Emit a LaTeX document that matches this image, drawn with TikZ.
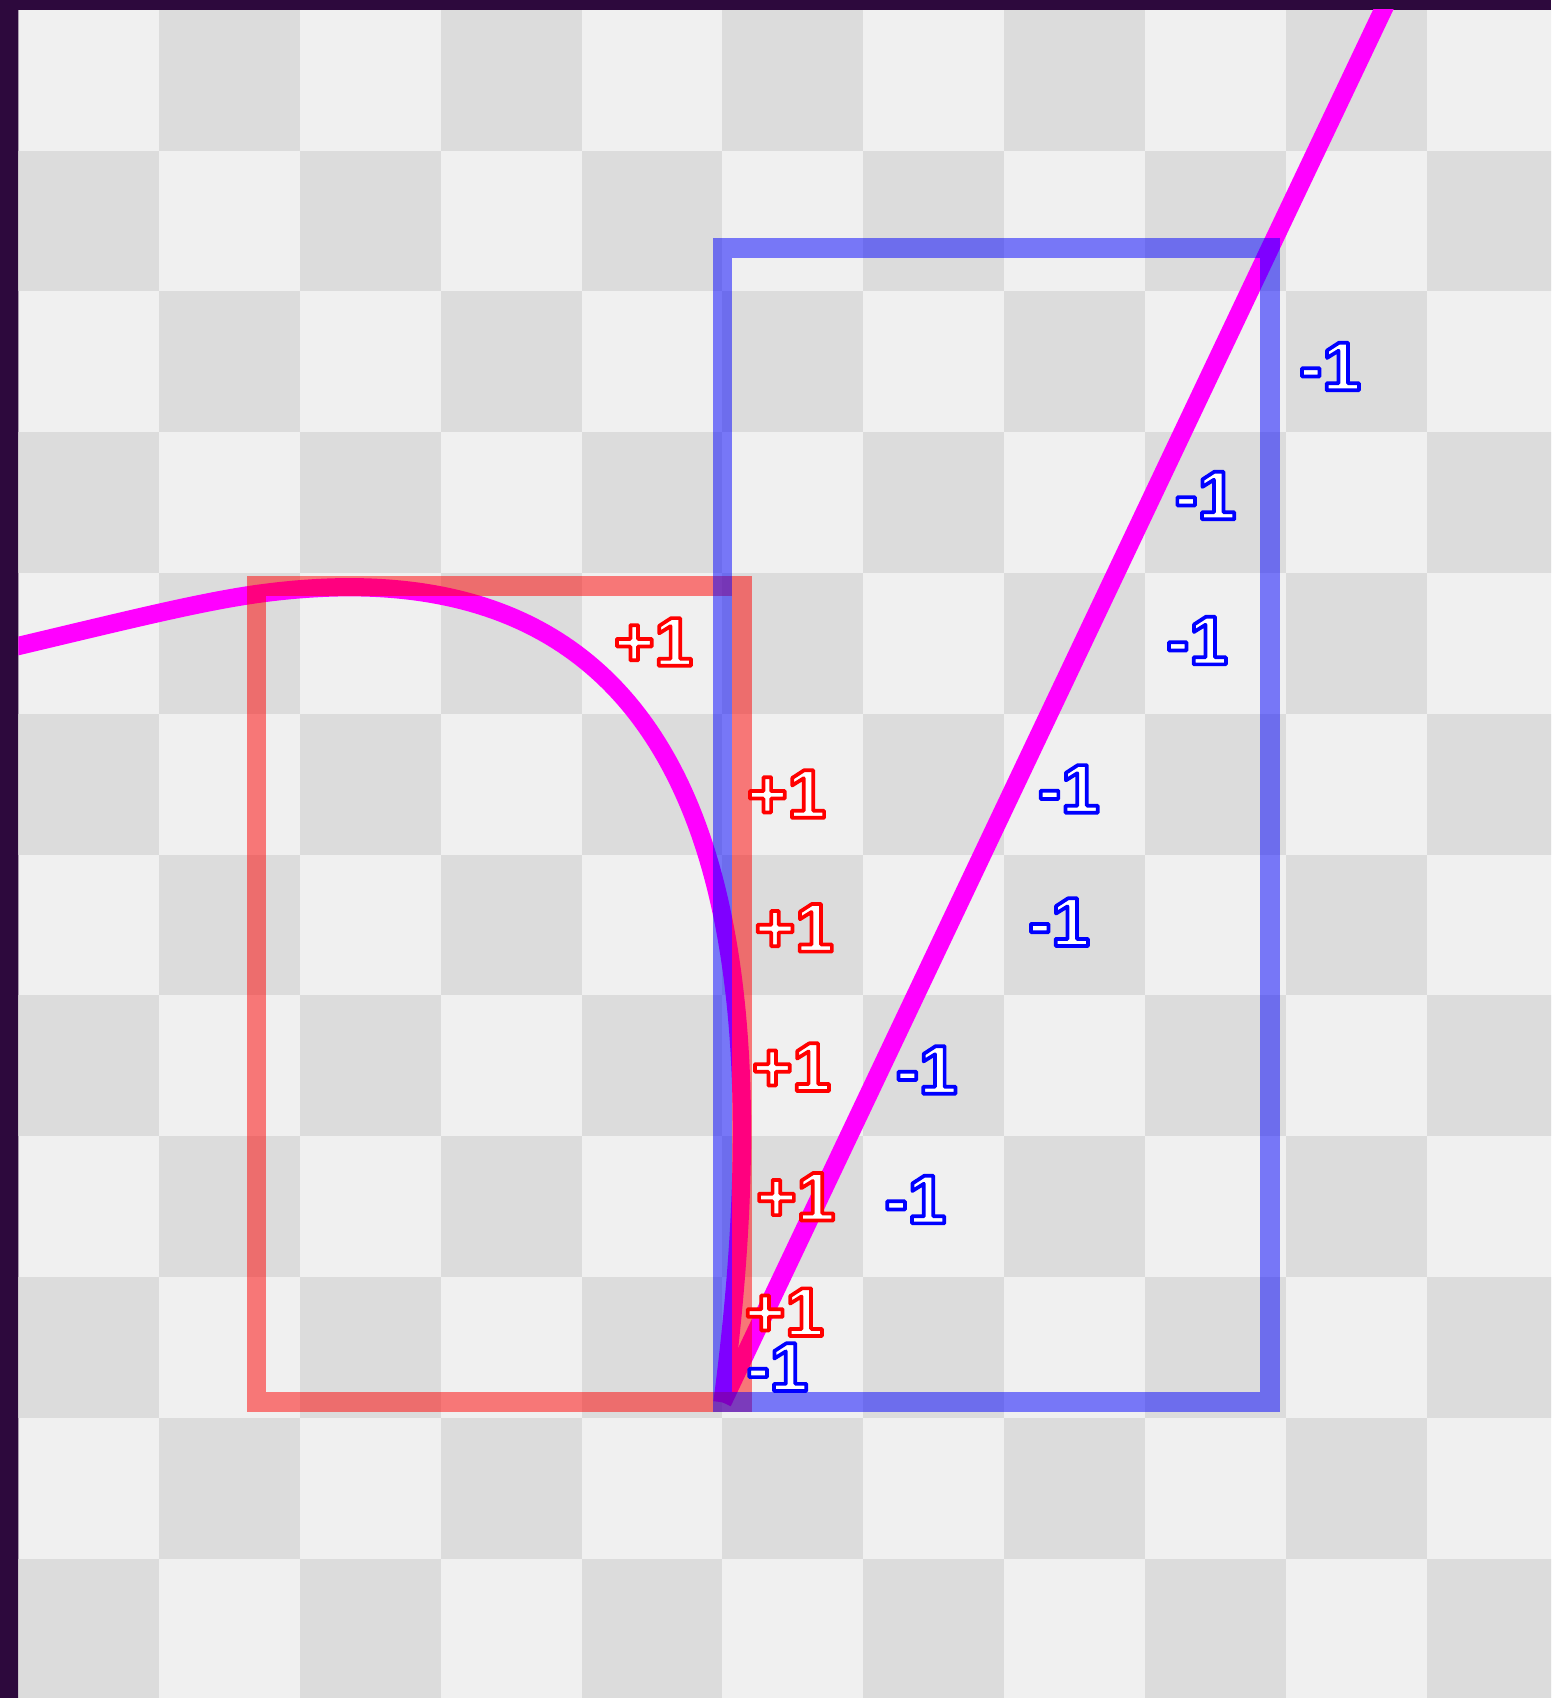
\documentclass[tikz,border=0pt]{standalone}
\usepackage{fontspec}
\setmainfont{Liberation Sans}
\newfontfamily\windfont{Liberation Sans Bold}

\definecolor{frame}{RGB}{45,9,61}
\definecolor{lightcell}{RGB}{240,240,240}
\definecolor{darkcell}{RGB}{220,220,220}
\definecolor{segmagenta}{RGB}{255,0,255}

% white text with a coloured outline (#1 = stroke colour as r g b)
\newcommand\windnum[2]{\special{pdf:literal direct 2 Tr 0.75 w 1 j #1 RG}#2\special{pdf:literal direct 0 Tr}}

\tikzset{
  segline/.style={draw=segmagenta, line width=0.13cm},
  boxside/.style={line width=0.14cm, draw opacity=0.5},
  wnum/.style={font=\windfont\fontsize{14}{14}\selectfont, text=white, inner sep=0pt},
}

\begin{document}
\begin{tikzpicture}[x=1cm, y=-1cm]
        % Frame
        \fill[frame] (-0.131,-0.069) rectangle (10.885,11.99);
        \useasboundingbox (-0.131,-0.069) rectangle (10.885,11.99);

        \begin{scope}
            \clip (0,0) rectangle (10.885,11.99);

            % Checkerboard
            \fill[lightcell] (0,0) rectangle (11,12);
            \foreach \i in {0,...,10} {
                \foreach \j in {0,...,11} {
                    \pgfmathparse{int(mod(\i+\j,2))}
                    \ifnum\pgfmathresult=1
                        \fill[darkcell] (\i,\j) rectangle ++(1,1);
                    \fi
                }
            }

            % Segment end points
            \coordinate (s0) at (1.69,4.15);
            \coordinate (s1) at (5.0,9.89);
            \coordinate (s2) at (8.89,1.69);

            % Path: curve, then line
            \draw[segline] (-0.6,4.66) .. controls (0.6,4.38) and (1.2,4.22) .. (s0)
                .. controls (4.2,3.8) and (5.6,5.3) .. (s1);
            \draw[segline] (s1) -- (s2) -- (9.93,-0.5);

            % Bounding box of the curve (red)
            \coordinate (rtl) at (1.69,4.095);
            \coordinate (rbr) at (5.137,9.89);
            \draw[boxside, red] (rtl) rectangle (rbr);

            % Bounding box of the line (blue)
            \coordinate (btl) at (5.0,1.69);
            \coordinate (bbr) at (8.89,9.89);
            \draw[boxside, blue] (btl) rectangle (bbr);
        \end{scope}

        % Winding numbers
        \node[wnum] (r1) at (4.51,4.49) {\windnum{1 0 0}{+1}};
        \node[wnum] (r2) at (5.455,5.57) {\windnum{1 0 0}{+1}};
        \node[wnum] (r3) at (5.51,6.52) {\windnum{1 0 0}{+1}};
        \node[wnum] (r4) at (5.49,7.51) {\windnum{1 0 0}{+1}};
        \node[wnum] (r5) at (5.52,8.43) {\windnum{1 0 0}{+1}};
        \node[wnum] (r6) at (5.44,9.25) {\windnum{1 0 0}{+1}};

        \node[wnum] (b1) at (9.315,2.534) {\windnum{0 0 1}{-1}};
        \node[wnum] (b2) at (8.43,3.45) {\windnum{0 0 1}{-1}};
        \node[wnum] (b3) at (8.37,4.48) {\windnum{0 0 1}{-1}};
        \node[wnum] (b4) at (7.46,5.534) {\windnum{0 0 1}{-1}};
        \node[wnum] (b5) at (7.39,6.48) {\windnum{0 0 1}{-1}};
        \node[wnum] (b6) at (6.45,7.53) {\windnum{0 0 1}{-1}};
        \node[wnum] (b7) at (6.37,8.45) {\windnum{0 0 1}{-1}};
        \node[wnum] (b8) at (5.39,9.64) {\windnum{0 0 1}{-1}};
\end{tikzpicture}
\end{document}
